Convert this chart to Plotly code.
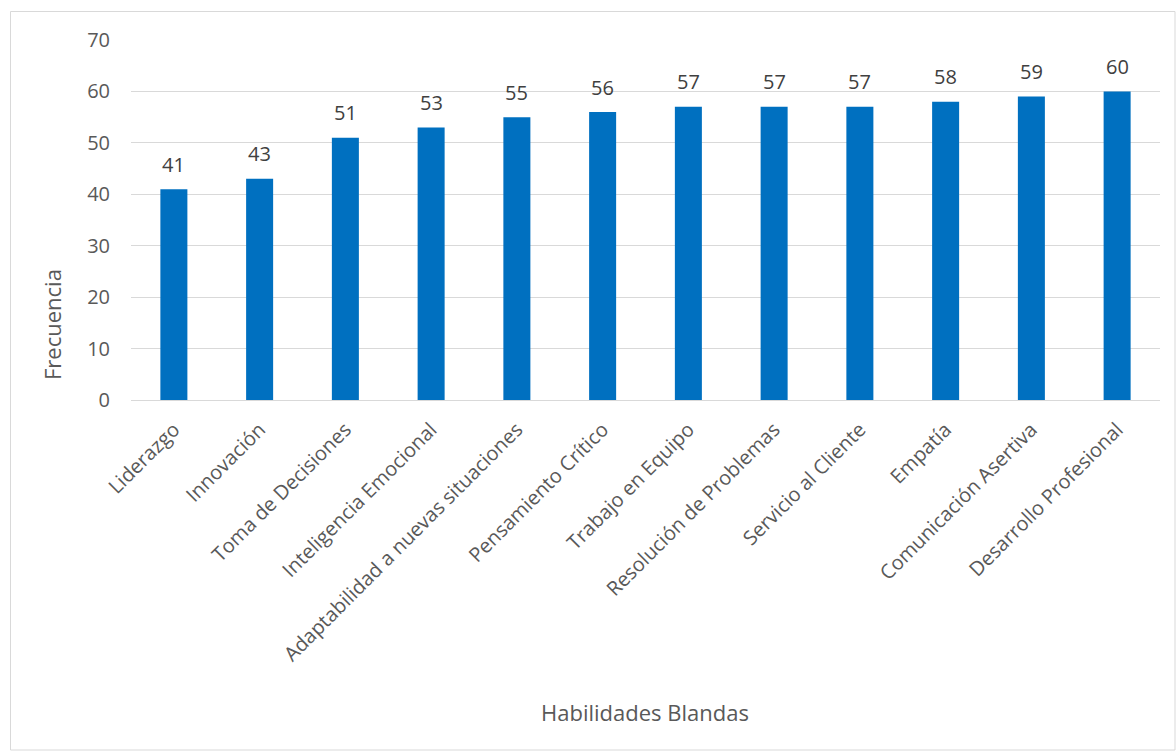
import plotly.graph_objects as go

categories = ["Liderazgo", "Innovación", "Toma de Decisiones", "Inteligencia Emocional",
              "Adaptabilidad a nuevas situaciones", "Pensamiento Crítico", "Trabajo en Equipo",
              "Resolución de Problemas", "Servicio al Cliente", "Empatía",
              "Comunicación Asertiva", "Desarrollo Profesional"]
values = [41, 43, 51, 53, 55, 56, 57, 57, 57, 58, 59, 60]
y_ticks = [0, 10, 20, 30, 40, 50, 60, 70]

FONT = "Open Sans"
L, R, T, B = 131, 16, 40, 351
W, H = 1176, 751
pw, ph = W - L - R, H - T - B

def px_x(x):
    return (x - L) / pw

def px_y(y):
    return (H - B - y) / ph

fig = go.Figure()
fig.add_trace(go.Bar(
    x=categories, y=values,
    marker=dict(color="#0070C0", line=dict(width=0)),
    showlegend=False,
))

annotations = [
    dict(x=c, y=v, xref="x", yref="y", text=str(v), showarrow=False,
         yshift=25, xanchor="center", yanchor="middle",
         font=dict(family=FONT, size=20, color="#404040"))
    for c, v in zip(categories, values)
]
annotations += [
    dict(text="Habilidades Blandas", xref="paper", yref="paper",
         x=px_x(645), y=px_y(712), showarrow=False,
         font=dict(family=FONT, size=22, color="#595959"), xanchor="center", yanchor="middle"),
    dict(text="Frecuencia", xref="paper", yref="paper",
         x=px_x(52), y=px_y(325), showarrow=False, textangle=-90,
         font=dict(family=FONT, size=22, color="#595959"), xanchor="center", yanchor="middle"),
]

fig.update_layout(
    width=W, height=H,
    margin=dict(l=L, r=R, t=T, b=B),
    paper_bgcolor="white", plot_bgcolor="white",
    bargap=0.685,
    showlegend=False,
    font=dict(family=FONT, color="#595959"),
    xaxis=dict(tickangle=-45, tickfont=dict(family=FONT, size=20, color="#595959"),
               showgrid=False, linecolor="#D9D9D9", linewidth=1, showline=True,
               ticks="", ticklabelstandoff=9),
    yaxis=dict(range=[0, 70], tickvals=y_ticks, tickfont=dict(family=FONT, size=20, color="#595959"),
               showgrid=True, gridcolor="#D9D9D9", gridwidth=1, zeroline=False,
               showline=False, ticks="", ticklabelstandoff=20),
    shapes=[dict(type="rect", xref="paper", yref="paper",
                 x0=px_x(10.5), x1=px_x(1175), y0=px_y(750), y1=px_y(11.5),
                 line=dict(color="#D9D9D9", width=1), fillcolor="rgba(0,0,0,0)", layer="below")],
    annotations=annotations,
)

fig.write_html("out.html", config={"displayModeBar": False},
               post_script="document.body.style.margin='0';document.body.style.overflow='hidden';")
